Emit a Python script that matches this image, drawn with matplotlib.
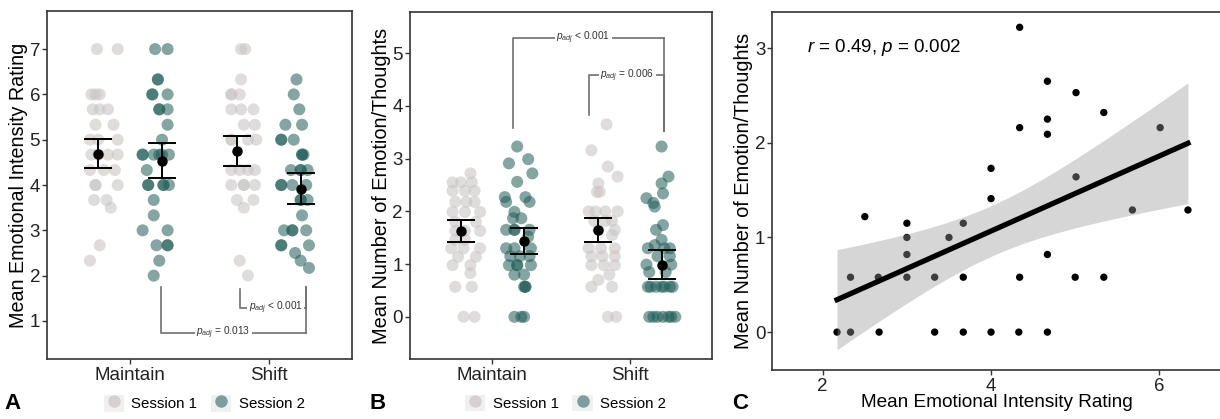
import numpy as np
import matplotlib
matplotlib.use("Agg")
import matplotlib.pyplot as plt
from matplotlib.lines import Line2D
from matplotlib.patches import Patch
from matplotlib.legend_handler import HandlerTuple

plt.rcParams['font.family'] = ['Liberation Sans', 'DejaVu Sans']
plt.rcParams['mathtext.fontset'] = 'custom'
plt.rcParams['mathtext.rm'] = 'Liberation Sans'
plt.rcParams['mathtext.it'] = 'Liberation Sans:italic'

conditions = ["Maintain", "Shift"]
sessions = ["Session 1", "Session 2"]

# ---- panel A: mean emotional intensity rating (value, jitter) ----
a_maint_s1 = [7, 7, 6, 6, 6, 5.67, 5.67, 5.67, 5.33, 5.33, 5, 5, 5, 4.67, 4.67, 4.67, 4.67,
              4.33, 4.33, 4.33, 4, 4, 4, 3.67, 3.67, 3.5, 2.67, 2.33]
a_maint_s1_dx = [-0.01, 0.14, -0.05, -0.02, 0.01, -0.04, 0.01, 0.07, -0.02, 0.11, -0.06, 0.0, 0.14,
                 -0.05, 0.0, 0.07, 0.14, -0.06, 0.04, 0.12, -0.02, -0.02, 0.14, -0.03, 0.06, 0.09,
                 0.01, -0.06]
a_maint_s2 = [7, 7, 6.33, 6.33, 6, 6, 6, 5.67, 5.67, 5.67, 5.33, 5, 4.67, 4.67, 4.67, 4.67, 4.67,
              4.67, 4.33, 4, 4, 4, 4, 4, 3.67, 3.33, 3, 3, 2.67, 2.67, 2.67, 2.33, 2]
a_maint_s2_dx = [-0.05, 0.04, -0.03, -0.03, -0.07, -0.07, 0.04, -0.02, -0.02, 0.04, 0.04, 0.0,
                 -0.14, -0.14, -0.06, -0.02, 0.0, 0.05, -0.11, -0.10, -0.10, 0.01, 0.01, 0.05,
                 -0.06, -0.06, -0.14, 0.04, -0.04, 0.04, 0.04, -0.02, -0.06]
a_shift_s1 = [7, 7, 6.33, 6, 6, 6, 5.67, 5.67, 5.67, 5.33, 5.33, 5, 5, 5, 5, 4.33, 4.33, 4.33,
              4.33, 4, 4, 4, 4, 3.67, 3.67, 3.5, 2.33, 2]
a_shift_s1_dx = [0.03, 0.06, 0.03, -0.04, -0.04, 0.02, -0.04, 0.03, 0.12, 0.05, 0.13, -0.04, -0.04,
                 0.08, 0.14, -0.04, 0.02, 0.08, 0.13, -0.04, 0.05, 0.05, 0.13, 0.0, 0.12, 0.05,
                 0.02, 0.08]
a_shift_s2 = [6.33, 6, 5.67, 5.33, 5.33, 5, 5, 5, 4.67, 4.67, 4.67, 4.33, 4.33, 4.33, 4.33, 4, 4,
              4, 4, 3.67, 3.67, 3.67, 3.33, 3, 3, 3, 3, 2.67, 2.67, 2.67, 2.5, 2.33, 2.17]
a_shift_s2_dx = [-0.03, -0.05, -0.01, -0.11, 0.01, -0.14, -0.14, -0.05, 0.01, 0.01, 0.02, -0.07,
                 0.0, 0.0, 0.05, -0.14, -0.14, -0.06, 0.04, 0.0, 0.0, 0.05, 0.01, -0.12, -0.06,
                 -0.06, 0.04, -0.14, -0.14, 0.06, -0.04, 0.0, 0.06]
a_mean = {"Session 1": [4.68, 4.76], "Session 2": [4.53, 3.92]}
a_lo = {"Session 1": [4.37, 4.42], "Session 2": [4.16, 3.59]}
a_hi = {"Session 1": [5.01, 5.08], "Session 2": [4.93, 4.26]}

# ---- panel B: mean number of emotion/thoughts (value, jitter) ----
b_maint_s1 = [2.72, 2.55, 2.55, 2.55, 2.39, 2.39, 2.39, 2.18, 2.18, 2.18, 1.99, 1.99, 1.99, 1.8,
              1.8, 1.63, 1.63, 1.63, 1.46, 1.46, 1.3, 1.3, 1.3, 1.14, 1.14, 0.98, 0.98, 0.83,
              0.57, 0.57, 0, 0]
b_maint_s1_dx = [0.07, -0.06, 0.0, 0.08, -0.06, 0.03, 0.10, -0.04, 0.04, 0.10, -0.06, 0.03, 0.14,
                 -0.04, 0.11, -0.04, 0.03, 0.14, -0.04, 0.03, -0.07, 0.02, 0.14, -0.02, 0.11,
                 -0.06, 0.07, 0.07, -0.04, 0.08, 0.02, 0.10]
b_maint_s2 = [3.23, 2.99, 2.91, 2.72, 2.56, 2.27, 2.27, 2.18, 2.18, 1.99, 1.87, 1.87, 1.65, 1.65,
              1.65, 1.65, 1.52, 1.3, 1.3, 1.3, 1.15, 1.15, 1.15, 0.98, 0.98, 0.98, 0.98, 0.8, 0.8,
              0.57, 0.57, 0.57, 0, 0, 0]
b_maint_s2_dx = [-0.05, 0.03, -0.11, 0.06, -0.05, -0.14, 0.01, -0.13, 0.04, -0.07, -0.08, -0.02,
                 -0.13, -0.07, -0.07, 0.04, 0.03, -0.13, -0.07, 0.05, -0.10, -0.03, 0.04, -0.11,
                 -0.05, -0.05, 0.05, -0.07, 0.0, 0.0, 0.01, 0.01, -0.07, -0.02, 0.0]
b_shift_s1 = [3.65, 3.16, 2.85, 2.66, 2.53, 2.37, 2.37, 2.0, 2.0, 2.0, 2.0, 1.82, 1.82, 1.82,
              1.65, 1.65, 1.55, 1.3, 1.3, 1.3, 1.15, 1.15, 1.15, 0.98, 0.98, 0.98, 0.8, 0.7,
              0.57, 0.57, 0, 0]
b_shift_s1_dx = [0.06, -0.05, 0.07, 0.14, 0.0, -0.01, 0.01, -0.07, -0.02, 0.05, 0.14, -0.03, 0.05,
                 0.10, 0.0, 0.12, 0.10, -0.07, 0.02, 0.12, -0.05, 0.03, 0.12, -0.05, 0.04, 0.12,
                 0.08, 0.0, -0.05, 0.10, 0.07, 0.13]
b_shift_s2 = [3.23, 2.66, 2.53, 2.34, 2.25, 2.16, 2.09, 1.74, 1.65, 1.46, 1.36, 1.3, 1.3, 1.3,
              1.15, 1.15, 0.99, 0.99, 0.85, 0.85, 0.57, 0.57, 0.57, 0.57, 0.57, 0.57, 0.57,
              0, 0, 0, 0, 0, 0, 0]
b_shift_s2_dx = [0.0, 0.05, 0.0, 0.01, -0.11, -0.06, -0.05, 0.01, -0.04, 0.0, -0.05, -0.10, 0.02,
                 0.06, -0.03, 0.06, -0.11, 0.07, -0.09, 0.03, -0.10, -0.08, -0.04, 0.0, 0.02,
                 0.06, 0.08, -0.09, -0.06, -0.03, 0.01, 0.05, 0.07, 0.10]
b_mean = {"Session 1": [1.63, 1.65], "Session 2": [1.44, 0.99]}
b_lo = {"Session 1": [1.42, 1.41], "Session 2": [1.19, 0.71]}
b_hi = {"Session 1": [1.84, 1.88], "Session 2": [1.69, 1.27]}

# ---- panel C: intensity vs number of emotions ----
c_x = [4.34, 4.67, 5.01, 5.34, 4.34, 4.67, 4.67, 6.01, 4.0, 4.0, 2.5, 3.0, 3.0, 3.0, 3.67, 3.5,
       5.01, 5.68, 6.34, 4.67, 2.33, 2.66, 3.0, 3.33, 3.67, 4.34, 5.0, 5.34, 2.17, 2.33, 2.67,
       3.33, 3.67, 4.0, 4.33, 4.67]
c_y = [3.22, 2.65, 2.53, 2.32, 2.16, 2.25, 2.09, 2.16, 1.73, 1.41, 1.22, 1.15, 1.0, 0.82, 1.15,
       1.0, 1.64, 1.29, 1.29, 0.82, 0.58, 0.58, 0.58, 0.58, 0.58, 0.58, 0.58, 0.58, 0, 0, 0, 0,
       0, 0, 0, 0]

col_s1 = "#cbc5c5"
col_s2 = "#1f5c57"
dodge = 0.23
dark = "#333333"

fig = plt.figure(figsize=(12.2, 4.19), dpi=100)
axA = fig.add_axes([0.0385, 0.1432, 0.25, 0.8305])
axB = fig.add_axes([0.336, 0.1432, 0.248, 0.828])
axC = fig.add_axes([0.633, 0.117, 0.369, 0.854])


def style_ticks(ax):
    ax.tick_params(axis="both", labelsize=13.5, length=3.5, width=1, color=dark,
                   labelcolor="#222222")
    ax.tick_params(axis="y", pad=1.5)
    ax.tick_params(axis="x", pad=2.5)
    for s in ax.spines.values():
        s.set_color(dark)
        s.set_linewidth(1.2)


def dot_panel(ax, groups, means, los, his):
    for (cond_i, sess), (vals, dx) in groups.items():
        off = -dodge if sess == "Session 1" else dodge
        c = col_s1 if sess == "Session 1" else col_s2
        a = 0.6 if sess == "Session 1" else 0.55
        ax.scatter(cond_i + 1 + off + np.array(dx), vals, s=75, color=c, alpha=a,
                   edgecolors="none", zorder=2)
    for sess in sessions:
        off = -dodge if sess == "Session 1" else dodge
        x = np.arange(1, 3) + off
        m = np.array(means[sess])
        err = [m - np.array(los[sess]), np.array(his[sess]) - m]
        ax.errorbar(x, m, yerr=err, fmt="o", color="black", ms=6.5, capsize=10,
                    elinewidth=1.4, capthick=1.4, zorder=4)
    ax.set_xlim(0.4, 2.6)
    ax.set_xticks([1, 2])
    ax.set_xticklabels(conditions, fontsize=13.5)
    style_ticks(ax)
    handles = [(Patch(facecolor="#f0f0f0", edgecolor="none"),
                Line2D([], [], marker="o", ls="", color=col_s1, alpha=0.7, ms=9, mec="none")),
               (Patch(facecolor="#f0f0f0", edgecolor="none"),
                Line2D([], [], marker="o", ls="", color=col_s2, alpha=0.55, ms=9, mec="none"))]
    ax.legend(handles, sessions, handler_map={tuple: HandlerTuple(ndivide=1)},
              loc="center", bbox_to_anchor=(0.515, -0.127), ncol=2, frameon=False,
              fontsize=10.8, handlelength=1.35, handleheight=1.35, handletextpad=0.5,
              columnspacing=0.9, borderpad=0.1)


def bracket(ax, x0, x1, y0, y1, y_left_end, label, tx):
    bc = "#707070"
    ax.plot([x0, x0, x1], [y_left_end, y1, y1], color=bc, lw=1.2, zorder=1)
    ax.plot([x1, x1], [y0, y1], color=bc, lw=1.2, zorder=1)
    ax.text(tx, y1, label, fontsize=7.3, ha="center", va="center", color="#333333",
            bbox=dict(facecolor="white", edgecolor="none", pad=1.0), zorder=3)


# panel A
dot_panel(axA, {(0, "Session 1"): (a_maint_s1, a_maint_s1_dx),
                (0, "Session 2"): (a_maint_s2, a_maint_s2_dx),
                (1, "Session 1"): (a_shift_s1, a_shift_s1_dx),
                (1, "Session 2"): (a_shift_s2, a_shift_s2_dx)}, a_mean, a_lo, a_hi)
axA.set_ylim(0.16, 7.84)
axA.set_yticks(range(1, 8))
axA.set_ylabel("Mean Emotional Intensity Rating", fontsize=14.2, labelpad=1)
bracket(axA, 1.225, 2.27, 1.75, 0.73, 1.75, r"$p_{adj}$ = 0.013", 1.67)
bracket(axA, 1.79, 2.27, 1.75, 1.28, 1.70, r"$p_{adj}$ < 0.001", 2.05)

# panel B
dot_panel(axB, {(0, "Session 1"): (b_maint_s1, b_maint_s1_dx),
                (0, "Session 2"): (b_maint_s2, b_maint_s2_dx),
                (1, "Session 1"): (b_shift_s1, b_shift_s1_dx),
                (1, "Session 2"): (b_shift_s2, b_shift_s2_dx)}, b_mean, b_lo, b_hi)
axB.set_ylim(-0.8, 5.78)
axB.set_yticks(range(0, 6))
axB.set_ylabel("Mean Number of Emotion/Thoughts", fontsize=14.4, labelpad=1)
bracket(axB, 1.148, 2.25, 3.53, 5.29, 3.58, r"$p_{adj}$ < 0.001", 1.66)
bracket(axB, 1.70, 2.25, 3.53, 4.58, 3.83, r"$p_{adj}$ = 0.006", 1.98)

# panel C
cx = np.array(c_x)
cy = np.array(c_y)
axC.scatter(cx, cy, s=28, color="black", edgecolors="none", zorder=1)
slope, icpt = np.polyfit(cx, cy, 1)
xs = np.linspace(cx.min(), cx.max(), 80)
n = len(cx)
resid = cy - (slope * cx + icpt)
se_res = np.sqrt(np.sum(resid ** 2) / (n - 2))
se_fit = se_res * np.sqrt(1 / n + (xs - cx.mean()) ** 2 / np.sum((cx - cx.mean()) ** 2))
t975 = 2.03
fit = slope * xs + icpt
axC.fill_between(xs, fit - t975 * se_fit, fit + t975 * se_fit, color="#999999", alpha=0.4,
                 lw=0, zorder=2)
axC.plot(xs, fit, color="black", lw=3.8, zorder=3)
axC.set_xlim(1.4, 6.75)
axC.set_ylim(-0.4, 3.38)
axC.set_xticks([2, 4, 6])
axC.set_yticks([0, 1, 2, 3])
style_ticks(axC)
axC.set_xlabel("Mean Emotional Intensity Rating", fontsize=13.7, labelpad=-1)
axC.set_ylabel("Mean Number of Emotion/Thoughts", fontsize=14.4, labelpad=1)
axC.text(0.078, 0.90, r"$r$ = 0.49, $p$ = 0.002", transform=axC.transAxes, fontsize=13.5,
         ha="left", va="center")

for lab, xp in [("A", 0.004), ("B", 0.303), ("C", 0.600)]:
    fig.text(xp, 0.012, lab, fontsize=16, fontweight="bold", ha="left", va="bottom")

fig.savefig("out.png", dpi=100)
